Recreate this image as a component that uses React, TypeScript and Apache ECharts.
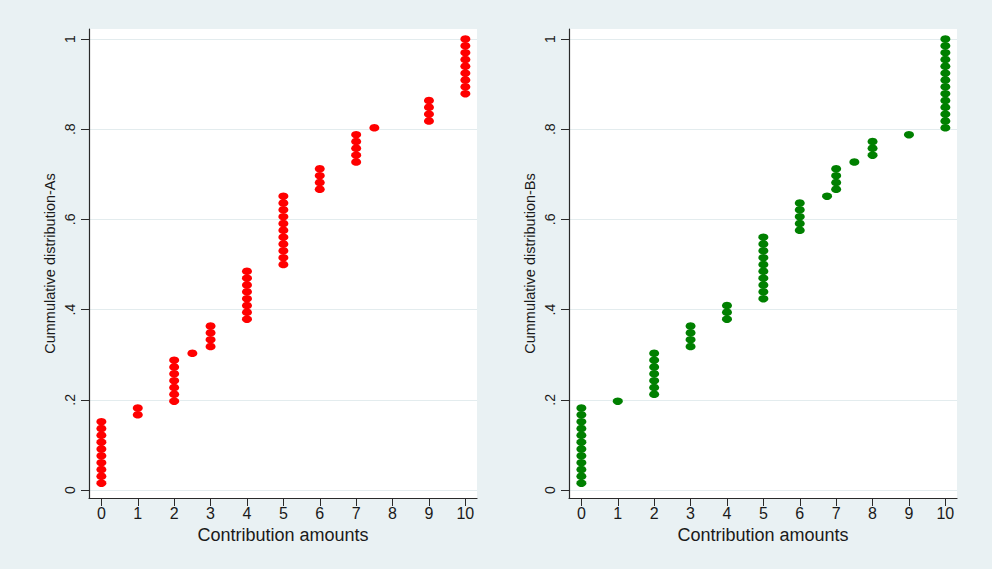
import React, { useEffect, useRef } from 'react';
import * as echarts from 'echarts';

// Tick values and labels
const xTicks = [0, 1, 2, 3, 4, 5, 6, 7, 8, 9, 10];
const yTicks = [0, 0.2, 0.4, 0.6, 0.8, 1];
const yTickLabels = ['0', '.2', '.4', '.6', '.8', '1'];

// Axis titles
const xTitle = 'Contribution amounts';
const titleA = 'Cummulative distribution-As';
const titleB = 'Cummulative distribution-Bs';

// Observed contribution amounts and number of participants at each amount
const valuesA = [0, 1, 2, 2.5, 3, 4, 5, 6, 7, 7.5, 9, 10];
const countsA = [10, 2, 7, 1, 4, 8, 11, 4, 5, 1, 4, 9];
const valuesB = [0, 1, 2, 3, 4, 5, 6, 6.75, 7, 7.5, 8, 9, 10];
const countsB = [12, 1, 7, 4, 3, 10, 5, 1, 4, 1, 3, 1, 14];

// Empirical cumulative distribution: each observation ranked i of N gets i/N
function cumulative(values: number[], counts: number[]): number[][] {
  const n = counts.reduce((a, b) => a + b, 0);
  const pts: number[][] = [];
  let k = 0;
  values.forEach((v, i) => {
    for (let j = 0; j < counts[i]; j++) {
      k += 1;
      pts.push([v, k / n]);
    }
  });
  return pts;
}

const FONT = '"Liberation Sans", Arial, sans-serif';
const TEXT = '#1a1a1a';
const AXIS = '#2a2a2a';

function yLabel(v: number): string {
  const i = yTicks.findIndex((t) => Math.abs(t - v) < 1e-9);
  return i >= 0 ? yTickLabels[i] : '';
}

function makeX(gridIndex: number) {
  return {
    type: 'value',
    gridIndex,
    min: -0.34,
    max: 10.32,
    name: xTitle,
    nameLocation: 'middle',
    nameGap: 22,
    nameTextStyle: { fontFamily: FONT, fontSize: 18, color: TEXT },
    axisLine: { show: true, onZero: false, lineStyle: { color: AXIS, width: 1.2 } },
    axisTick: { show: true, customValues: xTicks, length: 8, lineStyle: { color: AXIS, width: 1 } },
    axisLabel: {
      show: true,
      customValues: xTicks,
      fontFamily: FONT,
      fontSize: 16,
      color: TEXT,
      margin: 7,
    },
    splitLine: { show: false },
  };
}

function makeY(gridIndex: number, name: string) {
  return {
    type: 'value',
    gridIndex,
    min: -0.0177,
    max: 1.0222,
    name,
    nameLocation: 'middle',
    nameGap: 32,
    nameTextStyle: { fontFamily: FONT, fontSize: 14.5, color: TEXT },
    axisLine: { show: true, onZero: false, lineStyle: { color: AXIS, width: 1.2 } },
    axisTick: { show: true, customValues: yTicks, length: 8, lineStyle: { color: AXIS, width: 1 } },
    axisLabel: {
      show: true,
      customValues: yTicks,
      rotate: 90,
      fontFamily: FONT,
      fontSize: 14,
      color: TEXT,
      margin: 12,
      formatter: (v: number) => yLabel(v),
    },
    splitLine: { show: true, lineStyle: { color: '#e3ecee', width: 1.2 } },
  };
}

export default function App() {
  const ref = useRef<HTMLDivElement>(null);

  useEffect(() => {
    if (!ref.current) return;
    const chart = echarts.init(ref.current, undefined, { renderer: 'svg' });
    chart.setOption({
      animation: false,
      backgroundColor: '#e9f1f3',
      textStyle: { fontFamily: FONT },
      grid: [
        { left: 89, top: 29, width: 388, height: 469, show: true, backgroundColor: '#ffffff', borderWidth: 0 },
        { left: 569, top: 29, width: 388, height: 469, show: true, backgroundColor: '#ffffff', borderWidth: 0 },
      ],
      xAxis: [makeX(0), makeX(1)],
      yAxis: [makeY(0, titleA), makeY(1, titleB)],
      series: [
        {
          name: 'As',
          type: 'scatter',
          xAxisIndex: 0,
          yAxisIndex: 0,
          symbol: 'circle',
          symbolSize: [10, 7.5],
          itemStyle: { color: '#ff0000', opacity: 1 },
          data: cumulative(valuesA, countsA),
        },
        {
          name: 'Bs',
          type: 'scatter',
          xAxisIndex: 1,
          yAxisIndex: 1,
          symbol: 'circle',
          symbolSize: [10, 7.5],
          itemStyle: { color: '#008000', opacity: 1 },
          data: cumulative(valuesB, countsB),
        },
      ],
    });
    return () => chart.dispose();
  }, []);

  return (
    <div
      ref={ref}
      style={{ position: 'fixed', left: 0, top: 0, width: 992, height: 569 }}
    />
  );
}
